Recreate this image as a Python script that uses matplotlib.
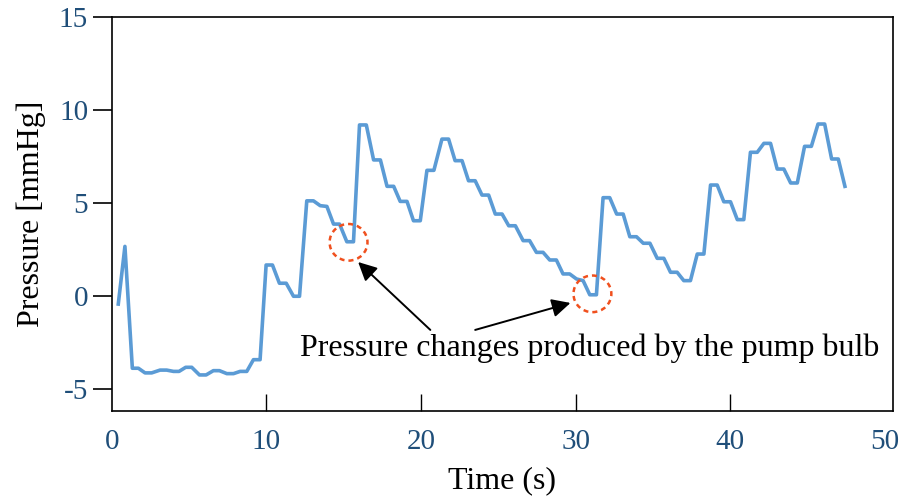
import matplotlib
matplotlib.use("Agg")
import matplotlib.pyplot as plt
from matplotlib.patches import Ellipse

plt.rcParams['font.family'] = ['Liberation Serif', 'DejaVu Serif']

time_s = [0.42, 0.85, 1.33, 1.72, 2.15, 2.58, 3.12, 3.55, 3.99, 4.35,
          4.78, 5.17, 5.67, 6.10, 6.57, 6.96, 7.44, 7.87, 8.30, 8.73,
          9.16, 9.59, 9.98, 10.39, 10.84, 11.28, 11.75, 12.14, 12.61, 13.04,
          13.48, 13.91, 14.34, 14.73, 15.20, 15.63, 16.02, 16.46, 16.93, 17.37,
          17.80, 18.23, 18.65, 19.09, 19.51, 19.95, 20.38, 20.83, 21.35, 21.78,
          22.20, 22.65, 23.07, 23.50, 23.94, 24.37, 24.80, 25.24, 25.67, 26.10,
          26.60, 27.02, 27.46, 27.89, 28.32, 28.75, 29.18, 29.61, 30.05, 30.48,
          30.91, 31.34, 31.77, 32.20, 32.65, 33.07, 33.50, 33.93, 34.37, 34.80,
          35.27, 35.70, 36.13, 36.56, 36.99, 37.42, 37.86, 38.29, 38.72, 39.15,
          39.58, 40.01, 40.45, 40.87, 41.30, 41.74, 42.17, 42.60, 43.03, 43.46,
          43.90, 44.33, 44.80, 45.24, 45.67, 46.10, 46.55, 46.98, 47.41]

pressure = [-0.45, 2.65, -3.9, -3.9, -4.15, -4.15, -4.0, -4.0, -4.07, -4.07,
            -3.85, -3.85, -4.26, -4.26, -4.03, -4.03, -4.19, -4.19, -4.07, -4.07,
            -3.44, -3.44, 1.65, 1.65, 0.67, 0.67, -0.03, -0.03, 5.1, 5.1,
            4.84, 4.8, 3.85, 3.85, 2.9, 2.9, 9.18, 9.18, 7.3, 7.3,
            5.88, 5.88, 5.07, 5.07, 4.03, 4.03, 6.74, 6.74, 8.42, 8.42,
            7.26, 7.26, 6.18, 6.18, 5.41, 5.41, 4.39, 4.39, 3.76, 3.76,
            2.96, 2.96, 2.33, 2.33, 1.92, 1.92, 1.17, 1.17, 0.9, 0.81,
            0.05, 0.05, 5.27, 5.27, 4.39, 4.39, 3.17, 3.17, 2.82, 2.82,
            2.01, 2.01, 1.26, 1.26, 0.81, 0.81, 2.24, 2.24, 5.95, 5.95,
            5.05, 5.05, 4.09, 4.09, 7.71, 7.71, 8.19, 8.19, 6.81, 6.81,
            6.06, 6.06, 8.03, 8.03, 9.23, 9.23, 7.35, 7.35, 5.88]

x_ticks = [0, 10, 20, 30, 40, 50]
y_ticks = [-5, 0, 5, 10, 15]
y_tick_labels = ['-5', '0', '5', '10', '15']

# highlighted pump-bulb events (centre t, centre p)
circle_t = [15.31, 31.08]
circle_p = [2.87, 0.1]
annotation_text = "Pressure changes produced by the pump bulb"

tick_color = '#1F4E79'
line_color = '#5B9BD5'
circle_color = '#F0501E'

fig = plt.figure(figsize=(9, 4.97), dpi=100)
ax = fig.add_axes([0.1242, 0.173, 0.8677, 0.7934])

ax.plot(time_s, pressure, color=line_color, lw=2.6, solid_joinstyle='round')

ax.set_xlim(0, 50.5)
ax.set_ylim(-6.2, 15)
ax.set_xticks(x_ticks)
ax.set_yticks(y_ticks)
ax.set_yticklabels(y_tick_labels)

ax.tick_params(axis='y', direction='out', length=14, width=1.2, pad=3,
               labelsize=21, labelcolor=tick_color, color='black')
ax.tick_params(axis='x', direction='in', length=12, width=1.0, pad=13,
               labelsize=21, labelcolor=tick_color, color='black')
xt = ax.xaxis.get_major_ticks()
xt[0].tick1line.set_visible(False)
xt[-1].tick1line.set_visible(False)
for s in ax.spines.values():
    s.set_linewidth(1.2)

ax.set_xlabel('Time (s)', fontsize=23, labelpad=8)
ax.set_ylabel('Pressure [mmHg]', fontsize=23, labelpad=9)

for ct, cp in zip(circle_t, circle_p):
    e = Ellipse((ct, cp), width=2.45, height=1.97, fill=False,
                edgecolor=circle_color, lw=1.8, linestyle=(0, (2.0, 1.6)), zorder=5)
    ax.add_patch(e)

arrow_kw = dict(arrowstyle='-|>', color='black', lw=1.4, mutation_scale=28,
                shrinkA=0, shrinkB=0)
ax.annotate('', xy=(15.93, 1.81), xytext=(20.6, -1.84), arrowprops=arrow_kw)
ax.annotate('', xy=(29.66, -0.39), xytext=(23.5, -1.84), arrowprops=arrow_kw)
ax.text(30.9, -2.8, annotation_text, fontsize=23, ha='center', va='center',
        color='black')

fig.savefig('out.png', dpi=100)
